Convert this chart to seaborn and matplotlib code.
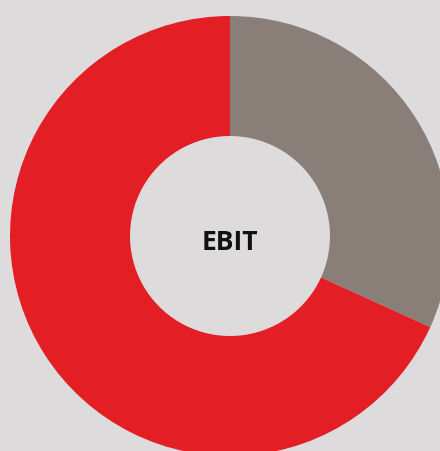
import matplotlib.pyplot as plt
import seaborn as sns

# データ
labels = ['Other', 'EBIT']
values = [31.8, 68.2]
colors = ['#8a7e79', '#e31e24']
center_text = 'EBIT'

sns.set_theme(style='white')
plt.rcParams['font.family'] = ['Open Sans', 'DejaVu Sans']

bg = '#dddbdc'
fig = plt.figure(figsize=(4.4, 4.51), dpi=100, facecolor=bg)
# 円の中心 (230, 236) px, 半径 220 px
ax = fig.add_axes([10 / 440, (451 - 236 - 220) / 451, 440 / 440, 440 / 451])
ax.set_facecolor(bg)

ax.pie(values, colors=colors, startangle=90, counterclock=False,
       radius=1.0, wedgeprops=dict(width=1 - 100 / 220, linewidth=0))
ax.text(0, -0.03, center_text, ha='center', va='center', fontsize=19,
        fontweight='bold', color='#111111')

ax.set_xlim(-1, 1)
ax.set_ylim(-1, 1)
ax.set_aspect('equal')
ax.axis('off')

plt.savefig('out.png', dpi=100, facecolor=bg)
